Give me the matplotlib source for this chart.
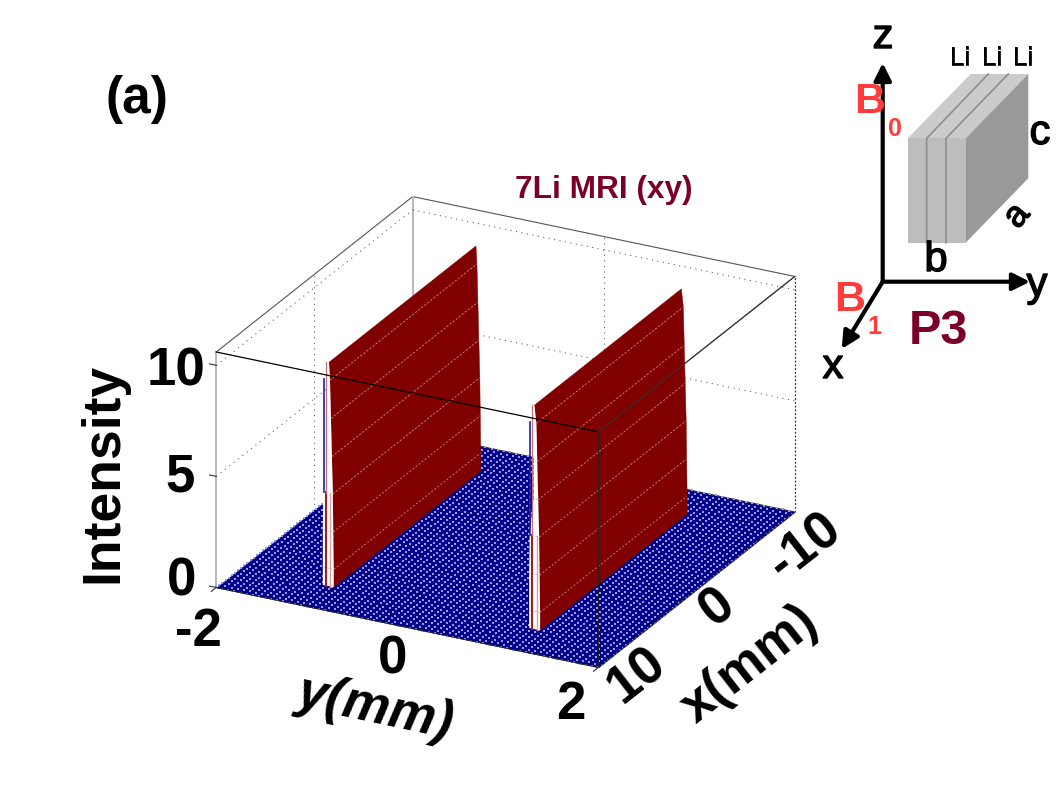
import numpy as np
import matplotlib
matplotlib.use('Agg')
import matplotlib.pyplot as plt
import matplotlib.patheffects as pe
from matplotlib.patches import Polygon

plt.rcParams['font.family'] = ['Liberation Sans', 'DejaVu Sans']

# scan grid and floor of the image
x_mm = np.linspace(-10, 10, 64)
y_mm = np.linspace(-2, 2, 64)
floor_intensity = np.zeros((64, 64))

# the two Li sheets
sheet_x = [7.47, -7.5]
sheet_z = [0, 0.81, 2.48, 4.19, 5.86, 7.57, 9.28, 10.08]
sheet1_y = [-1.03, -1.03, -1.035, -1.04, -1.05, -1.06, -1.07, -1.08]
sheet2_y = [1.13, 1.13, 1.125, 1.12, 1.11, 1.10, 1.09, 1.07]
# front edge of each sheet, offset from the sheet in y
strip_left = [-0.115, -0.115, -0.11, -0.10, -0.05, -0.04, -0.04, -0.035]
stripe_y = [-0.08, -0.065]
stripe_top = 4.2

z_ticks = [0, 5, 10]
z_top = 10.6

# labels, in pixels
z_labels = [('0', 182, 582), ('5', 180, 477), ('10', 176, 372)]
y_labels = [('-2', 198, 632), ('0', 393, 660), ('2', 571, 705)]
x_labels = [('10', 637, 675), ('0', 718, 608), ('-10', 805, 547)]

# crystal sketch, in pixels
front_face = [(907.7, 138.3), (965.7, 138.3), (965.7, 242.7), (907.7, 242.7)]
top_face = [(907.7, 138.3), (970.7, 74), (1028.3, 74), (965.7, 138.3)]
side_face = [(965.7, 138.3), (1028.3, 74), (1028.3, 178.3), (965.7, 242.7)]
dividers = [[(926.7, 242.7), (926.7, 138.3), (988.3, 74)],
            [(946, 242.7), (946, 138.3), (1008.3, 74)]]
origin = (882.7, 281.7)
arrow_tips = [(882.7, 63), (1030, 281.7), (841.7, 349)]

fig = plt.figure(figsize=(10.58, 7.94), dpi=100)
ax = fig.add_axes([97.8 / 1058, -45.7 / 794, 794 / 1058, 1], projection='3d', computed_zorder=False)
ax.set_proj_type('ortho')
ax.view_init(elev=24, azim=27.2)
ax.set_box_aspect((1, 1, 0.6), zoom=0.807)
ax.set_xlim(-10, 10)
ax.set_ylim(-2, 2)
ax.set_zlim(0, z_top)
ax.set_axis_off()

# box behind the data
thin = dict(color='#555555', lw=0.8, zorder=0.5)
ax.plot([10, -10], [-2, -2], [z_top, z_top], **thin)
ax.plot([-10, -10], [-2, 2], [z_top, z_top], **thin)
ax.plot([10, -10], [2, 2], [z_top, z_top], **thin)
ax.plot([-10, -10], [-2, -2], [0, z_top], color='#bbbbbb', lw=1.5, zorder=0.5)
ax.plot([10, 10], [-2, -2], [0, z_top], color='#bbbbbb', lw=1.5, zorder=0.5)
ax.plot([-10, -10], [2, 2], [0, z_top], color='#333333', lw=0.9, ls=(0, (1.5, 1.5)), zorder=0.5)

# dotted grid on the back walls
dots = dict(color='#666666', lw=0.8, ls=(0, (1, 4)), zorder=0.6)
for z in z_ticks[1:]:
    ax.plot([10, -10], [-2, -2], [z, z], **dots)
    ax.plot([-10, -10], [-2, 2], [z, z], **dots)
ax.plot([0, 0], [-2, -2], [0, z_top], **dots)
ax.plot([-10, -10], [0, 0], [0, z_top], **dots)

# floor
X, Y = np.meshgrid(x_mm, y_mm)
ax.plot_surface(X, Y, floor_intensity, color='#00008c', shade=False, rstride=63, cstride=63,
                linewidth=0.3, edgecolor='#00008c', zorder=1)
ax.scatter(X.ravel(), Y.ravel(), floor_intensity.ravel(), s=0.6, marker='s', color='#9a9ae0',
           linewidths=0, depthshade=False, zorder=1.5)


def draw_sheet(ys, order):
    Xs, Zs = np.meshgrid(sheet_x, sheet_z)
    Ys = np.array([ys, ys]).T
    ax.plot_surface(Xs, Ys, Zs, color='#800000', shade=False, rstride=1, cstride=1,
                    linewidth=0.3, edgecolor='#800000', zorder=order)
    # mesh lines along x
    for y, z in zip(ys[1:-1], sheet_z[1:-1]):
        ax.plot(sheet_x, [y, y], [z, z], color='#e8a8a8', lw=0.7, ls=(0, (2, 2)), alpha=0.7, zorder=order + 0.1)
    # white front edge
    x0 = sheet_x[0]
    left = np.array(ys) + np.array(strip_left)
    Xf = np.full((len(sheet_z), 2), x0)
    Yf = np.array([left, ys]).T
    Zf = np.array([sheet_z, sheet_z]).T
    ax.plot_surface(Xf, Yf, Zf, color='white', shade=False, rstride=1, cstride=1,
                    linewidth=0, zorder=order + 0.2)
    # red stripes in the lower part of the edge
    ax.plot([x0, x0], [ys[0] + stripe_y[0]] * 2, [0, stripe_top], color='#a02020', lw=1.5, zorder=order + 0.3)
    ax.plot([x0, x0], [ys[0] + stripe_y[1] + 0.03] * 2, [0, stripe_top], color='#e0a0a0', lw=1, zorder=order + 0.3)
    ax.plot([x0, x0], [ys[-1] - 0.03] * 2, [sheet_z[3], sheet_z[-1]], color='#c87070', lw=0.9, zorder=order + 0.3)
    ax.plot([x0, x0], [ys[-1] - 0.05] * 2, [stripe_top, sheet_z[6]], color='#2020a0', lw=1.2, zorder=order + 0.3)


draw_sheet(sheet1_y, 2)
draw_sheet(sheet2_y, 3)

# front edges of the box
front = dict(color='black', lw=0.9, zorder=5)
ax.plot([10, 10], [-2, 2], [z_top, z_top], **front)
ax.plot([10, -10], [2, 2], [z_top, z_top], color='#333333', lw=0.8, zorder=5)
ax.plot([10, 10], [2, 2], [0, z_top], color='#222222', lw=0.7, zorder=5)
ax.plot([10, 10], [-2, 2], [0, 0], color='#222222', lw=0.7, zorder=5)
ax.plot([10, -10], [2, 2], [0, 0], color='#222222', lw=0.7, zorder=5)
ax.plot([-10, -10], [-2, 2], [0, 0], color='#222222', lw=0.7, zorder=1.2)
for z in z_ticks:
    ax.plot([10, 10], [-2, -2.07], [z, z], color='#333333', lw=0.8, zorder=5)
ax.plot([10, 10.5], [-2, -2], [0, 0], color='#333333', lw=0.8, zorder=5)
ax.plot([10, 10.5], [2, 2], [0, 0], color='#333333', lw=0.8, zorder=5)

# overlay for the text and the sketch, in pixels
ov = fig.add_axes([0, 0, 1, 1], zorder=10)
ov.set_xlim(0, 1058)
ov.set_ylim(794, 0)
ov.axis('off')
ov.patch.set_alpha(0)

for t, px, py in z_labels + y_labels:
    ov.text(px, py, t, fontsize=38, fontweight='bold', ha='center', va='center')
for t, px, py in x_labels:
    ov.text(px, py, t, fontsize=38, fontweight='bold', ha='center', va='center', rotation=38)
ov.text(103, 473, 'Intensity', fontsize=38.5, fontweight='bold', rotation=90, ha='center', va='center')
ov.text(375, 708, 'y(mm)', fontsize=38, fontweight='bold', style='italic', rotation=-12, ha='center', va='center')
ov.text(750, 665, 'x(mm)', fontsize=38, fontweight='bold', rotation=38, ha='center', va='center')
ov.text(137, 99, '(a)', fontsize=37, fontweight='bold', ha='center', va='center')
ov.text(604, 190, '7Li MRI (xy)', fontsize=22.8, fontweight='bold', color='#7b0028', ha='center', va='center')

# crystal
ov.add_patch(Polygon(top_face, fc='#cbcbcb', ec='none'))
ov.add_patch(Polygon(side_face, fc='#999999', ec='none'))
ov.add_patch(Polygon(front_face, fc='#bdbdbd', ec='none'))
for d in dividers:
    ov.plot([p[0] for p in d], [p[1] for p in d], color='#8f8f8f', lw=1.2)
for tip in arrow_tips:
    ov.annotate('', xy=tip, xytext=origin,
                arrowprops=dict(arrowstyle='-|>', color='black', lw=3, mutation_scale=26, shrinkA=0, shrinkB=0))

# the sketch letters are a little heavier than the regular face
heavy = [pe.withStroke(linewidth=1.0, foreground='black')]
for t, px, py in [('z', 883, 37), ('x', 833, 367), ('y', 1037, 285), ('c', 1040, 133), ('b', 936, 260)]:
    ov.text(px, py, t, fontsize=30, ha='center', va='center', path_effects=heavy)
ov.text(1017, 216, 'a', fontsize=26, rotation=50, ha='center', va='center', path_effects=heavy)
for px in [960, 991.7, 1023]:
    ov.text(px, 58, 'Li', fontsize=18.5, ha='center', va='center', path_effects=[pe.withStroke(linewidth=0.5, foreground='black')])
ov.text(870, 102, 'B', fontsize=31, color='#ff3b3b', fontweight='bold', ha='center', va='center')
ov.text(895, 129, '0', fontsize=18, color='#ff3b3b', fontweight='bold', ha='center', va='center')
ov.text(850, 300, 'B', fontsize=31, color='#ff3b3b', fontweight='bold', ha='center', va='center')
ov.text(874, 327, '1', fontsize=18, color='#ff3b3b', fontweight='bold', ha='center', va='center')
ov.text(938, 332, 'P3', fontsize=35, color='#7b0028', fontweight='bold', ha='center', va='center')

fig.savefig('out.png', dpi=100)
